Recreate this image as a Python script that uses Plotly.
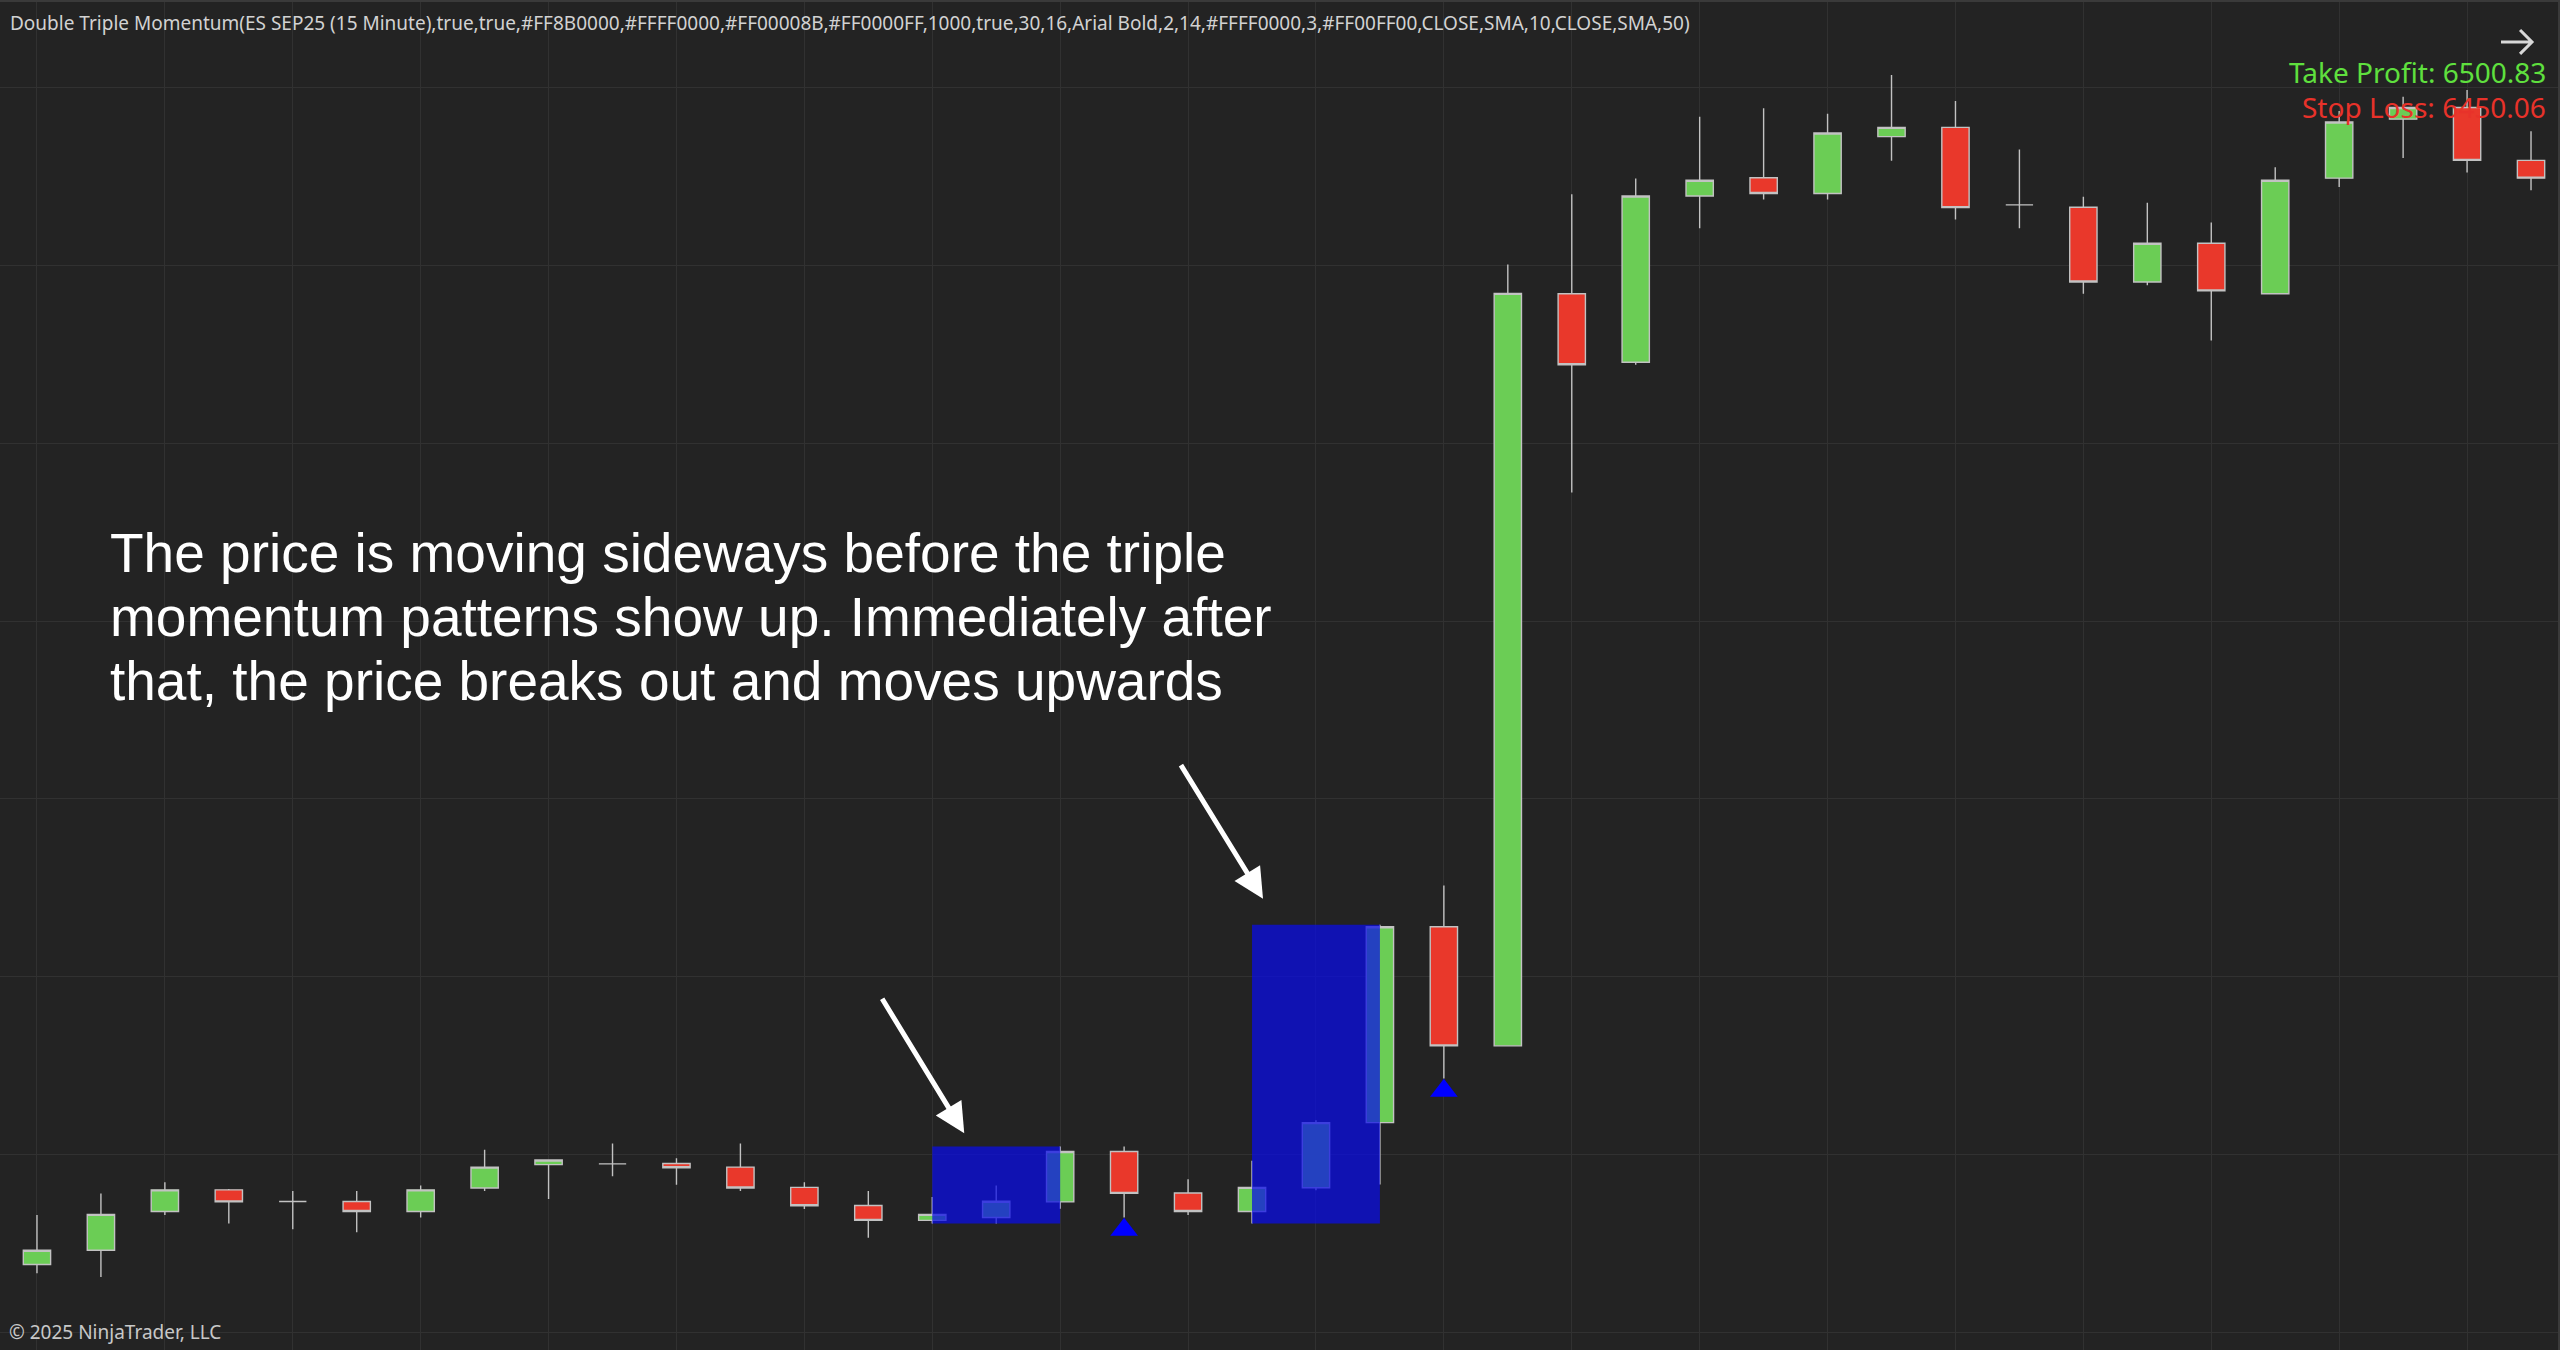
import plotly.graph_objects as go

# ES SEP25, 15 minute bars
bar_index = list(range(40))
opens = [6446.90, 6447.30, 6448.39, 6449.00, 6448.67, 6448.67, 6448.39, 6449.05, 6449.71, 6449.73,
         6449.74, 6449.64, 6449.07, 6448.56, 6448.14, 6448.22, 6448.66, 6450.08, 6448.91, 6448.39,
         6449.06, 6450.89, 6456.40, 6453.05, 6474.21, 6472.28, 6476.96, 6477.47, 6477.03, 6478.63,
         6478.89, 6476.71, 6476.64, 6474.54, 6475.63, 6474.21, 6477.46, 6479.12, 6479.45, 6477.96]
highs = [6448.29, 6448.90, 6449.21, 6449.02, 6448.97, 6448.97, 6449.12, 6450.13, 6449.86, 6450.30,
         6449.89, 6450.30, 6449.21, 6448.97, 6448.80, 6449.12, 6450.22, 6450.22, 6449.30, 6449.82,
         6450.96, 6456.46, 6457.56, 6475.03, 6477.01, 6477.45, 6479.19, 6479.43, 6479.27, 6480.36,
         6479.63, 6478.27, 6476.94, 6476.77, 6476.21, 6477.77, 6479.35, 6479.75, 6479.94, 6478.78]
lows = [6446.65, 6446.55, 6448.29, 6448.05, 6447.89, 6447.81, 6448.22, 6448.97, 6448.74, 6449.38,
        6449.14, 6448.97, 6448.46, 6447.65, 6448.05, 6448.05, 6448.47, 6448.22, 6448.29, 6448.05,
        6448.99, 6449.15, 6452.13, 6453.03, 6468.62, 6472.21, 6476.05, 6476.86, 6476.86, 6477.95,
        6476.30, 6476.05, 6474.21, 6474.45, 6472.89, 6474.21, 6477.21, 6478.03, 6477.62, 6477.12]
closes = [6447.30, 6448.31, 6449.00, 6448.66, 6448.67, 6448.39, 6449.00, 6449.64, 6449.84, 6449.73,
          6449.62, 6449.05, 6448.55, 6448.14, 6448.31, 6448.68, 6450.08, 6448.90, 6448.39, 6449.07,
          6450.89, 6456.40, 6453.05, 6474.22, 6472.21, 6476.96, 6477.40, 6477.03, 6478.73, 6478.89,
          6476.63, 6476.71, 6474.54, 6475.63, 6474.29, 6477.40, 6479.04, 6479.45, 6477.96, 6477.46]

# triple momentum patterns (first bar, last bar) and the signal bars
patterns = [(14, 16), (19, 21)]
signal_bars = [17, 22]

TAKE_PROFIT = 6500.83
STOP_LOSS = 6450.06

TITLE = ("Double Triple Momentum(ES SEP25 (15 Minute),true,true,#FF8B0000,#FFFF0000,#FF00008B,"
         "#FF0000FF,1000,true,30,16,Arial Bold,2,14,#FFFF0000,3,#FF00FF00,CLOSE,SMA,10,CLOSE,SMA,50)")
NOTE_LINES = [
    "The price is moving sideways before the triple",
    "momentum patterns show up. Immediately after",
    "that, the price breaks out and moves upwards",
]

BG = "#232323"
GRID = "#313131"
UP = "#6BCD55"
DOWN = "#E9382B"
OUTLINE = "#C2C2C2"
W, H = 2560, 1350

fig = go.Figure()

fig.add_trace(go.Candlestick(
    x=bar_index, open=opens, high=highs, low=lows, close=closes,
    increasing=dict(fillcolor=UP, line=dict(color=OUTLINE, width=1.4)),
    decreasing=dict(fillcolor=DOWN, line=dict(color=OUTLINE, width=1.4)),
    whiskerwidth=0, showlegend=False, hoverinfo="x+y",
))

# signal triangles just under the signal bar low
fig.add_trace(go.Scatter(
    x=signal_bars, y=[lows[i] - 0.34 for i in signal_bars],
    mode="markers", showlegend=False,
    marker=dict(symbol="triangle-up", size=24, color="#0000FF", line=dict(width=0)),
))

# pattern boxes drawn over the bars
for a, b in patterns:
    fig.add_shape(
        type="rect", xref="x", yref="y", layer="above",
        x0=a, x1=b, y0=min(lows[a:b + 1]), y1=max(highs[a:b + 1]),
        fillcolor="rgba(10,12,232,0.73)", line=dict(width=0),
    )


def px(x, y):
    return f"{x / W:.5f},{1 - y / H:.5f}"


# small "scroll to end" arrow in the top right corner
fig.add_shape(
    type="path", xref="paper", yref="paper", layer="above",
    path=(f"M{px(2503, 40)} L{px(2534, 40)} M{px(2522, 28)} L{px(2534, 40)} "
          f"L{px(2522, 52)}"),
    line=dict(color="#d8d8d8", width=3),
)

ann = []
ann.append(dict(text=TITLE, x=8 / W, y=1 - 21 / H, xanchor="left", yanchor="middle",
                font=dict(family="Noto Sans", size=19, color="#d2d2d2")))
ann.append(dict(text="© 2025 NinjaTrader, LLC", x=7 / W, y=1 - 1332 / H, xanchor="left",
                yanchor="middle", font=dict(family="Noto Sans", size=19, color="#c8c8c8")))
ann.append(dict(text=f"Take Profit: {TAKE_PROFIT:.2f}", x=2550 / W, y=1 - 70 / H, xanchor="right",
                yanchor="middle", font=dict(family="Noto Sans", size=28, color="#5FE03E")))
ann.append(dict(text=f"Stop Loss: {STOP_LOSS:.2f}", x=2550 / W, y=1 - 105 / H, xanchor="right",
                yanchor="middle", font=dict(family="Noto Sans", size=28, color="#E8322A")))
for k, line in enumerate(NOTE_LINES):
    ann.append(dict(text=line, x=108 / W, y=1 - (552 + 64 * k) / H, xanchor="left",
                    yanchor="middle",
                    font=dict(family="Liberation Sans, Arial", size=55, color="#ffffff")))
for tip, tail in [((965, 1133), (882, 997)), ((1264, 898), (1181, 763))]:
    ann.append(dict(text="", x=tip[0] / W, y=1 - tip[1] / H, ax=tail[0] - tip[0],
                    ay=tail[1] - tip[1], showarrow=True, arrowhead=2, arrowsize=1.2,
                    arrowwidth=5, arrowcolor="#ffffff", standoff=0))
for a in ann:
    a.setdefault("xref", "paper")
    a.setdefault("yref", "paper")
    a.setdefault("showarrow", False)

fig.update_layout(
    width=W, height=H,
    margin=dict(l=0, r=0, t=0, b=0),
    paper_bgcolor=BG, plot_bgcolor=BG,
    boxgap=0.39,
    annotations=ann,
    showlegend=False,
    xaxis=dict(range=[-37 / 64, 2523 / 64], tick0=0, dtick=2, showgrid=True, gridcolor=GRID,
               gridwidth=1, zeroline=False, showticklabels=False, rangeslider=dict(visible=False),
               showline=True, mirror=True, linecolor="#3a3a3a", linewidth=2),
    yaxis=dict(range=[6444.494, 6482.416], tick0=6445, dtick=5, showgrid=True, gridcolor=GRID,
               gridwidth=1, zeroline=False, showticklabels=False,
               showline=True, mirror=True, linecolor="#3a3a3a", linewidth=2),
)

fig.write_html(
    "out.html",
    config={"displayModeBar": False},
    post_script="document.body.style.margin='0';document.body.style.overflow='hidden';",
)
